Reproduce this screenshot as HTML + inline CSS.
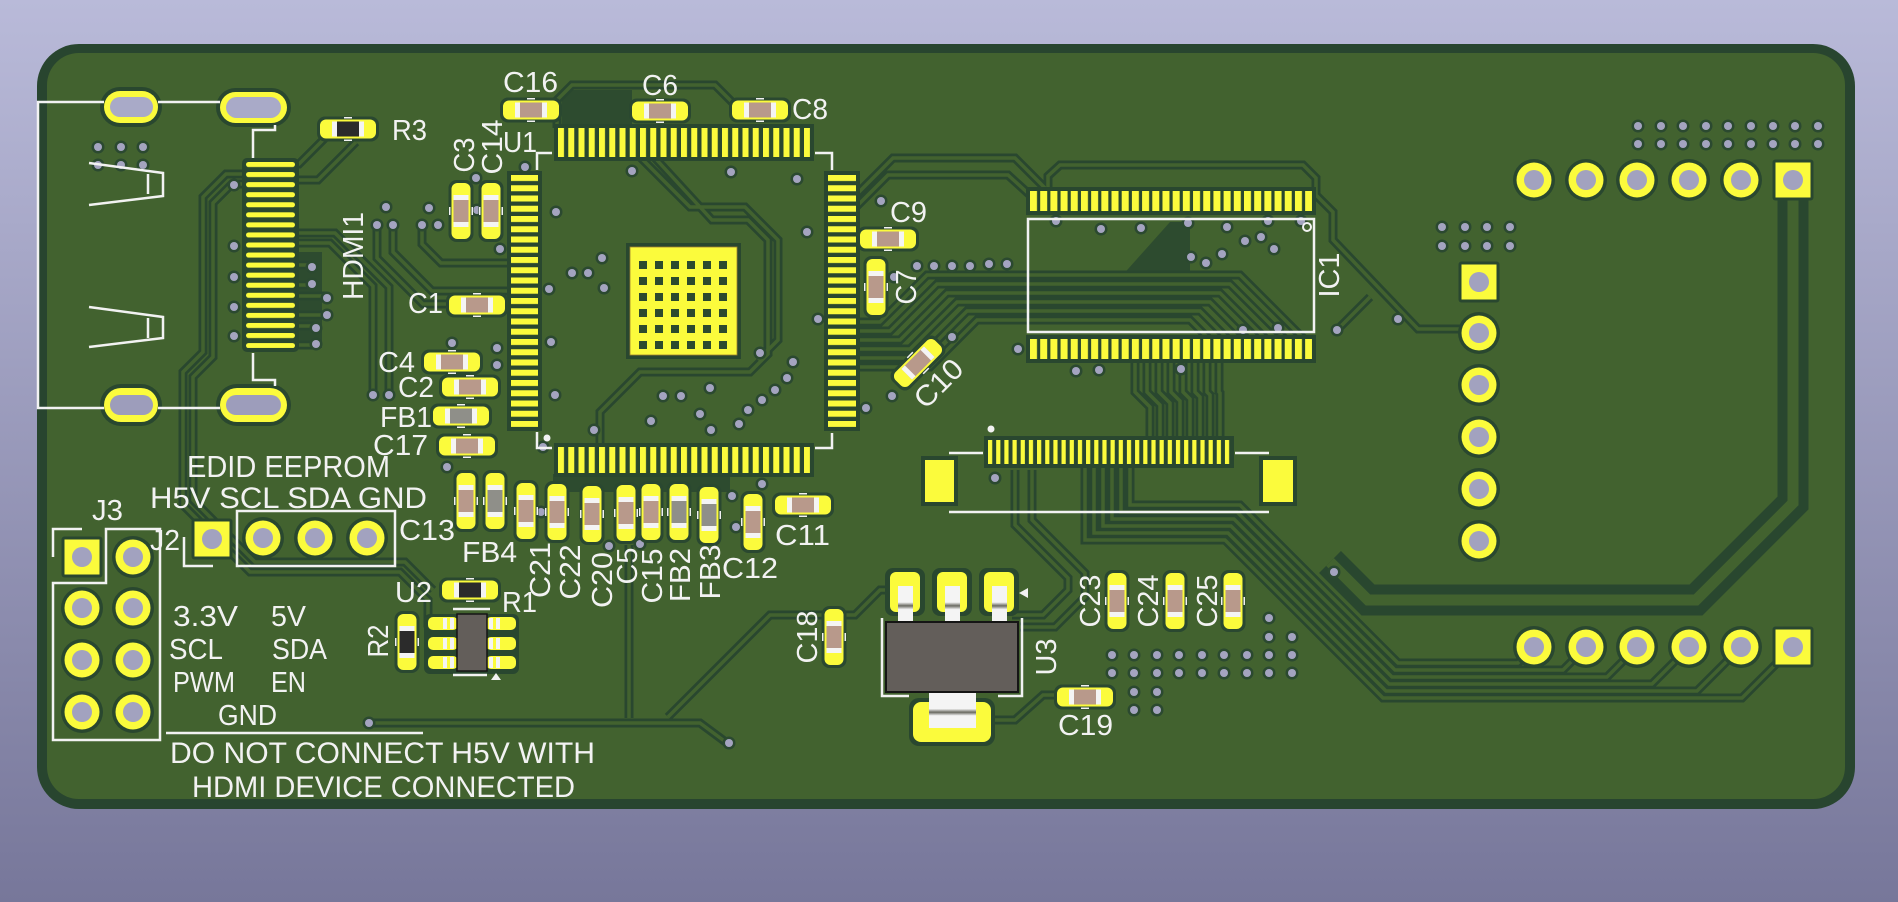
<!DOCTYPE html>
<html><head><meta charset="utf-8">
<style>
html,body{margin:0;padding:0;width:1898px;height:902px;overflow:hidden;background:#9a9ab8}
svg{display:block}
text{font-family:"Liberation Sans","DejaVu Sans",sans-serif;fill:#f2f2f2;font-size:29px}
.silk{fill:none;stroke:#f2f2f2;stroke-width:2.5}
</style></head><body>
<svg width="1898" height="902" viewBox="0 0 1898 902" xmlns="http://www.w3.org/2000/svg" xmlns:xlink="http://www.w3.org/1999/xlink">
<defs>
<linearGradient id="bg" gradientUnits="userSpaceOnUse" x1="0" y1="0" x2="0" y2="902">
<stop offset="0" stop-color="#b9bad9"/><stop offset="1" stop-color="#77779a"/>
</linearGradient>
<linearGradient id="lead" x1="0" y1="0" x2="0" y2="1">
<stop offset="0" stop-color="#f4f4f4"/><stop offset="0.45" stop-color="#f4f4f4"/><stop offset="0.55" stop-color="#6a6a62"/><stop offset="0.65" stop-color="#f4f4f4"/><stop offset="1" stop-color="#f4f4f4"/>
</linearGradient>
<pattern id="pU1h" patternUnits="userSpaceOnUse" x="558" y="0" width="10.25" height="902"><rect width="6" height="902" fill="#fbfb3c"/></pattern>
<pattern id="pU1v" patternUnits="userSpaceOnUse" x="0" y="175" width="1898" height="10.25"><rect width="1898" height="6" fill="#fbfb3c"/></pattern>
<pattern id="pIC" patternUnits="userSpaceOnUse" x="1030" y="0" width="10.19" height="902"><rect width="7" height="902" fill="#fbfb3c"/></pattern>
<pattern id="pFPC" patternUnits="userSpaceOnUse" x="988" y="0" width="8.17" height="902"><rect width="4.2" height="902" fill="#fbfb3c"/></pattern>
<pattern id="pHD" patternUnits="userSpaceOnUse" x="246" y="162" width="49" height="10.06"><rect width="49" height="5" rx="2.5" fill="#fbfb3c"/></pattern>

<g id="capH">
 <rect x="-31" y="-12.5" width="62" height="25" rx="8" fill="#2a4830"/>
 <rect x="-28" y="-9.5" width="56" height="19" rx="6" fill="#fbfb3c"/>
 <rect x="-16" y="-7.5" width="32" height="15" fill="#b8998b"/>
 <rect x="-16" y="-7.5" width="5" height="15" fill="#f4f4f4"/>
 <rect x="11" y="-7.5" width="5" height="15" fill="#f4f4f4"/>
 <rect x="-4" y="-12" width="8" height="1.5" fill="#f2f2f2"/>
 <rect x="-4" y="10.5" width="8" height="1.5" fill="#f2f2f2"/>
</g>
<g id="fbH">
 <rect x="-31" y="-12.5" width="62" height="25" rx="8" fill="#2a4830"/>
 <rect x="-28" y="-9.5" width="56" height="19" rx="6" fill="#fbfb3c"/>
 <rect x="-16" y="-7.5" width="32" height="15" fill="#8f8f89"/>
 <rect x="-16" y="-7.5" width="5" height="15" fill="#f4f4f4"/>
 <rect x="11" y="-7.5" width="5" height="15" fill="#f4f4f4"/>
 <rect x="-4" y="-12" width="8" height="1.5" fill="#f2f2f2"/>
 <rect x="-4" y="10.5" width="8" height="1.5" fill="#f2f2f2"/>
</g>
<g id="resH">
 <rect x="-31" y="-12.5" width="62" height="25" rx="8" fill="#2a4830"/>
 <rect x="-28" y="-9.5" width="56" height="19" rx="6" fill="#fbfb3c"/>
 <rect x="-16" y="-7.5" width="32" height="15" fill="#2b2b2b"/>
 <rect x="-16" y="-7.5" width="5" height="15" fill="#f4f4f4"/>
 <rect x="11" y="-7.5" width="5" height="15" fill="#f4f4f4"/>
 <rect x="-4" y="-12" width="8" height="1.5" fill="#f2f2f2"/>
 <rect x="-4" y="10.5" width="8" height="1.5" fill="#f2f2f2"/>
</g>
<g id="padR"><circle r="21" fill="#29472f"/><circle r="17.5" fill="#fbfb3c"/><circle r="10" fill="#a2a2bf"/></g>
<g id="padS"><rect x="-20.5" y="-20.5" width="41" height="41" rx="3" fill="#29472f"/><rect x="-17.5" y="-17.5" width="35" height="35" fill="#fbfb3c"/><circle r="10" fill="#a2a2bf"/></g>
<g id="v"><circle r="6.5" fill="#2b4930"/><circle r="4" fill="#a4a4c0"/></g>

<g id="thin">
<path d="M327,136 L299,164 H290"/>
<path d="M356,142 L318,180 H290"/>
<path d="M246,174 H226 L203,197 V352 L183,372 V470"/>
<path d="M246,184 H232 L213,203 V357 L193,377 V470"/>
<path d="M295,233 H335 L389,287 V395"/>
<path d="M295,243 H330 L373,286 V395"/>
<path d="M295,265 H312 M295,285 H312 M295,296 H327 M295,315 H327 M295,326 H316 M295,345 H316"/>
<path d="M377,225 V258 L423,304 H511"/>
<path d="M393,225 V252 L432,291 H511"/>
<path d="M422,225 V244 L441,263 H511"/>
<path d="M183,470 V505 L250,572 H400 L428,600 V623 H435"/>
<path d="M193,470 V500 L255,562 H405 L433,590"/>
<path d="M369,723 H700 L727,743"/>
<path d="M629,545 V718"/>
<path d="M905,590 H880 L855,615 H770 L668,717"/>
<path d="M600,447 V412 L640,372 H750 L768,354 V240 L748,220 H712 L655,158"/>
<path d="M640,157 L690,207 H745 L778,240 V340 L758,360"/>
<path d="M557,128 V100 L572,85 H715 L733,103 H760"/>
<path d="M856,195 L893,158 H1015 L1045,188"/>
<path d="M856,207 L888,175 H1008 L1030,195"/>
<path d="M1048,191 V176 L1060,165 H1303 L1316,178 V195 L1333,212 V240 L1418,329 H1479"/>
<path d="M1370,297 L1337,330"/>
<path d="M856,322 H880 L927,275 H1240 L1304,339"/>
<path d="M856,331 H890 L937,284 H1230 L1285,339"/>
<path d="M856,340 H900 L947,293 H1220 L1266,339"/>
<path d="M856,349 H910 L957,302 H1210 L1247,339"/>
<path d="M856,358 H920 L967,311 H1200 L1228,339"/>
<path d="M856,367 H930 L977,320 H1190 L1209,339"/>
<path d="M1135,359 V392 L1150,407 V440"/>
<path d="M1147,359 V392 L1160,405 V440"/>
<path d="M1159,359 V392 L1170,403 V440"/>
<path d="M1171,359 V392 L1180,401 V440"/>
<path d="M1183,359 V392 L1190,399 V440"/>
<path d="M1195,359 V392 L1200,397 V440"/>
<path d="M1207,359 V392 L1210,395 V440"/>
<path d="M1219,359 V392 L1220,393 V440"/>
<path d="M1130,464 V505 H1240 L1398,663 H1518 L1534,647"/>
<path d="M1121,464 V512 H1237 L1395,670 H1563 L1586,647"/>
<path d="M1112,464 V519 H1234 L1392,677 H1607 L1637,647"/>
<path d="M1103,464 V526 H1231 L1389,684 H1652 L1689,647"/>
<path d="M1094,464 V533 H1228 L1386,691 H1697 L1741,647"/>
<path d="M1085,464 V540 H1225 L1383,698 H1742 L1793,647"/>
<path d="M1015,470 V525 L1068,578 V590 L1043,615 H1012"/>
<path d="M1032,470 V520 L1085,573 V597 L1055,627 H1020"/>
<path d="M991,720 H1015 L1043,695 H1060"/>
</g>
</defs>

<!-- background -->
<rect width="1898" height="902" fill="url(#bg)"/>
<!-- board -->
<rect x="37" y="44" width="1818" height="765" rx="42" fill="#28452f"/>
<rect x="47" y="53" width="1798" height="746" rx="32" fill="#42622f"/>

<!-- dark unfilled zones -->
<g fill="#2d4b2f">
<polygon points="562,90 632,90 632,126 562,126"/>
<polygon points="1120,278 1170,222 1190,222 1190,278"/>
<polygon points="553,474 730,474 730,492 553,492"/>
<polygon points="298,252 322,252 322,348 298,348"/>
</g>

<!-- traces -->
<use href="#thin" fill="none" stroke="#29472f" stroke-width="9" stroke-linejoin="miter"/>
<use href="#thin" fill="none" stroke="#42622f" stroke-width="3.5" stroke-linejoin="miter"/>
<path d="M1793,198 V503 L1696,600 H1368 L1330,562" fill="none" stroke="#29472f" stroke-width="31"/>
<path d="M1793,198 V503 L1696,600 H1368 L1330,562" fill="none" stroke="#42622f" stroke-width="11"/>

<!-- vias -->
<g>
<use href="#v" x="98" y="147"/><use href="#v" x="121" y="147"/><use href="#v" x="143" y="147"/>
<use href="#v" x="98" y="165"/><use href="#v" x="121" y="165"/><use href="#v" x="143" y="165"/>
<use href="#v" x="234" y="185"/><use href="#v" x="234" y="246"/><use href="#v" x="234" y="277"/><use href="#v" x="234" y="307"/><use href="#v" x="234" y="336"/>
<use href="#v" x="312" y="267"/><use href="#v" x="312" y="284"/><use href="#v" x="327" y="298"/><use href="#v" x="327" y="315"/><use href="#v" x="316" y="328"/><use href="#v" x="316" y="344"/>
<use href="#v" x="377" y="225"/><use href="#v" x="393" y="225"/><use href="#v" x="422" y="225"/><use href="#v" x="438" y="225"/><use href="#v" x="386" y="207"/>
<use href="#v" x="373" y="395"/><use href="#v" x="389" y="395"/>
<use href="#v" x="525" y="167"/><use href="#v" x="477" y="210"/><use href="#v" x="476" y="178"/><use href="#v" x="429" y="208"/><use href="#v" x="500" y="249"/><use href="#v" x="556" y="212"/>
<use href="#v" x="602" y="258"/><use href="#v" x="572" y="273"/><use href="#v" x="588" y="273"/><use href="#v" x="604" y="288"/><use href="#v" x="549" y="289"/><use href="#v" x="551" y="342"/>
<use href="#v" x="497" y="348"/><use href="#v" x="497" y="365"/><use href="#v" x="452" y="343"/><use href="#v" x="555" y="395"/><use href="#v" x="632" y="171"/><use href="#v" x="731" y="172"/>
<use href="#v" x="797" y="179"/><use href="#v" x="807" y="232"/><use href="#v" x="818" y="319"/><use href="#v" x="760" y="353"/><use href="#v" x="793" y="362"/><use href="#v" x="787" y="378"/>
<use href="#v" x="775" y="390"/><use href="#v" x="762" y="400"/><use href="#v" x="748" y="410"/><use href="#v" x="739" y="424"/><use href="#v" x="710" y="388"/><use href="#v" x="681" y="396"/>
<use href="#v" x="663" y="396"/><use href="#v" x="700" y="414"/><use href="#v" x="711" y="430"/><use href="#v" x="651" y="421"/><use href="#v" x="594" y="430"/><use href="#v" x="881" y="201"/>
<use href="#v" x="894" y="277"/><use href="#v" x="892" y="396"/><use href="#v" x="866" y="408"/><use href="#v" x="543" y="447"/><use href="#v" x="447" y="467"/><use href="#v" x="541" y="512"/>
<use href="#v" x="609" y="546"/><use href="#v" x="640" y="544"/><use href="#v" x="732" y="496"/><use href="#v" x="736" y="527"/><use href="#v" x="762" y="484"/>
<use href="#v" x="917" y="266"/><use href="#v" x="934" y="266"/><use href="#v" x="952" y="266"/><use href="#v" x="970" y="266"/><use href="#v" x="989" y="264"/><use href="#v" x="1007" y="264"/>
<use href="#v" x="952" y="337"/><use href="#v" x="1018" y="349"/><use href="#v" x="1076" y="371"/><use href="#v" x="1099" y="370"/><use href="#v" x="1181" y="369"/><use href="#v" x="995" y="478"/>
<use href="#v" x="1056" y="221"/><use href="#v" x="1101" y="229"/><use href="#v" x="1141" y="228"/><use href="#v" x="1188" y="223"/><use href="#v" x="1227" y="227"/><use href="#v" x="1268" y="221"/>
<use href="#v" x="1301" y="221"/><use href="#v" x="1245" y="241"/><use href="#v" x="1261" y="237"/><use href="#v" x="1274" y="249"/><use href="#v" x="1191" y="257"/><use href="#v" x="1206" y="263"/>
<use href="#v" x="1222" y="254"/><use href="#v" x="1243" y="330"/><use href="#v" x="1278" y="328"/><use href="#v" x="1337" y="330"/><use href="#v" x="1398" y="319"/><use href="#v" x="1334" y="572"/>
<use href="#v" x="1638" y="126"/><use href="#v" x="1661" y="126"/><use href="#v" x="1683" y="126"/><use href="#v" x="1706" y="126"/><use href="#v" x="1728" y="126"/><use href="#v" x="1751" y="126"/><use href="#v" x="1773" y="126"/><use href="#v" x="1795" y="126"/><use href="#v" x="1818" y="126"/>
<use href="#v" x="1638" y="144"/><use href="#v" x="1661" y="144"/><use href="#v" x="1683" y="144"/><use href="#v" x="1706" y="144"/><use href="#v" x="1728" y="144"/><use href="#v" x="1751" y="144"/><use href="#v" x="1773" y="144"/><use href="#v" x="1795" y="144"/><use href="#v" x="1818" y="144"/>
<use href="#v" x="1442" y="227"/><use href="#v" x="1465" y="227"/><use href="#v" x="1487" y="227"/><use href="#v" x="1510" y="227"/>
<use href="#v" x="1442" y="246"/><use href="#v" x="1465" y="246"/><use href="#v" x="1487" y="246"/><use href="#v" x="1510" y="246"/>
<use href="#v" x="1269" y="618"/><use href="#v" x="1269" y="637"/><use href="#v" x="1292" y="637"/>
<use href="#v" x="1112" y="655"/><use href="#v" x="1134" y="655"/><use href="#v" x="1157" y="655"/><use href="#v" x="1179" y="655"/><use href="#v" x="1202" y="655"/><use href="#v" x="1224" y="655"/><use href="#v" x="1247" y="655"/><use href="#v" x="1269" y="655"/><use href="#v" x="1292" y="655"/>
<use href="#v" x="1112" y="673"/><use href="#v" x="1134" y="673"/><use href="#v" x="1157" y="673"/><use href="#v" x="1179" y="673"/><use href="#v" x="1202" y="673"/><use href="#v" x="1224" y="673"/><use href="#v" x="1247" y="673"/><use href="#v" x="1269" y="673"/><use href="#v" x="1292" y="673"/>
<use href="#v" x="1134" y="692"/><use href="#v" x="1157" y="692"/><use href="#v" x="1134" y="710"/><use href="#v" x="1157" y="710"/>
<use href="#v" x="369" y="723"/><use href="#v" x="729" y="743"/>
</g>

<!-- HDMI connector -->
<g>
<rect x="100" y="87" width="62" height="40" rx="20" fill="#29472f"/>
<rect x="104" y="91" width="54" height="32" rx="16" fill="#fbfb3c"/>
<rect x="110" y="97" width="43" height="20" rx="10" fill="#a9aac8"/>
<rect x="216" y="88" width="75" height="39" rx="19.5" fill="#29472f"/>
<rect x="220" y="92" width="67" height="31" rx="15.5" fill="#fbfb3c"/>
<rect x="226" y="97" width="55" height="21" rx="10.5" fill="#a9aac8"/>
<rect x="100" y="384" width="62" height="42" rx="21" fill="#29472f"/>
<rect x="104" y="388" width="54" height="34" rx="17" fill="#fbfb3c"/>
<rect x="110" y="395" width="43" height="20" rx="10" fill="#9d9dbb"/>
<rect x="216" y="384" width="75" height="42" rx="21" fill="#29472f"/>
<rect x="220" y="388" width="67" height="34" rx="17" fill="#fbfb3c"/>
<rect x="226" y="395" width="55" height="20" rx="10" fill="#9d9dbb"/>
<rect x="242" y="158" width="57" height="194" rx="5" fill="#29472f"/>
<rect x="246" y="162" width="49" height="186" fill="url(#pHD)"/>
<path class="silk" d="M104,102 H38 V408 H104 M158,102 H220 M158,408 H220 M275,125 V130 H253 V158 M253,353 V380 H275 V386"/>
<path class="silk" d="M89,163 L163,173 V196 L89,205 M148,174 V194 M89,307 L163,317 V338 L89,347 M148,318 V338" stroke-width="3"/>
</g>

<!-- U1 -->
<g>
<rect x="554" y="124" width="260" height="37" fill="#29472f"/>
<rect x="554" y="443" width="260" height="34" fill="#29472f"/>
<rect x="507" y="171" width="35" height="260" fill="#29472f"/>
<rect x="824" y="171" width="36" height="260" fill="#29472f"/>
<rect x="558" y="128" width="252" height="29" fill="url(#pU1h)"/>
<rect x="558" y="447" width="252" height="26" fill="url(#pU1h)"/>
<rect x="511" y="175" width="27" height="252" fill="url(#pU1v)"/>
<rect x="828" y="175" width="28" height="252" fill="url(#pU1v)"/>
<rect x="626" y="243" width="115" height="116" fill="#29472f"/>
<rect x="630" y="247" width="107" height="108" fill="#fbfb3c" stroke="#a08030" stroke-width="0.8"/>
<g fill="#2c4a2e">
<rect x="639" y="261" width="8" height="8"/><rect x="655" y="261" width="8" height="8"/><rect x="671" y="261" width="8" height="8"/><rect x="687" y="261" width="8" height="8"/><rect x="703" y="261" width="8" height="8"/><rect x="719" y="261" width="8" height="8"/>
<rect x="639" y="277" width="8" height="8"/><rect x="655" y="277" width="8" height="8"/><rect x="671" y="277" width="8" height="8"/><rect x="687" y="277" width="8" height="8"/><rect x="703" y="277" width="8" height="8"/><rect x="719" y="277" width="8" height="8"/>
<rect x="639" y="293" width="8" height="8"/><rect x="655" y="293" width="8" height="8"/><rect x="671" y="293" width="8" height="8"/><rect x="687" y="293" width="8" height="8"/><rect x="703" y="293" width="8" height="8"/><rect x="719" y="293" width="8" height="8"/>
<rect x="639" y="309" width="8" height="8"/><rect x="655" y="309" width="8" height="8"/><rect x="671" y="309" width="8" height="8"/><rect x="687" y="309" width="8" height="8"/><rect x="703" y="309" width="8" height="8"/><rect x="719" y="309" width="8" height="8"/>
<rect x="639" y="325" width="8" height="8"/><rect x="655" y="325" width="8" height="8"/><rect x="671" y="325" width="8" height="8"/><rect x="687" y="325" width="8" height="8"/><rect x="703" y="325" width="8" height="8"/><rect x="719" y="325" width="8" height="8"/>
<rect x="639" y="341" width="8" height="8"/><rect x="655" y="341" width="8" height="8"/><rect x="671" y="341" width="8" height="8"/><rect x="687" y="341" width="8" height="8"/><rect x="703" y="341" width="8" height="8"/><rect x="719" y="341" width="8" height="8"/>
</g>
<path class="silk" d="M552,153 H537 V170 M815,153 H832 V170 M537,432 V448 H552 M832,433 V448 H815"/>
<circle cx="547" cy="438" r="3.5" fill="#f2f2f2"/>
</g>

<!-- IC1 -->
<g>
<rect x="1026" y="187" width="290" height="28" fill="#29472f"/>
<rect x="1026" y="335" width="290" height="28" fill="#29472f"/>
<rect x="1030" y="191" width="282" height="20" fill="url(#pIC)"/>
<rect x="1030" y="339" width="282" height="20" fill="url(#pIC)"/>
<rect class="silk" x="1028" y="219" width="286" height="113"/>
<circle cx="1307" cy="227" r="4" fill="none" stroke="#f2f2f2" stroke-width="2"/>
</g>

<!-- FPC connector -->
<g>
<rect x="984" y="436" width="250" height="32" fill="#29472f"/>
<rect x="988" y="440" width="242" height="24" fill="url(#pFPC)"/>
<rect x="921" y="456" width="37" height="50" fill="#29472f"/>
<rect x="925" y="460" width="29" height="42" fill="#fbfb3c"/>
<rect x="1259" y="456" width="38" height="50" fill="#29472f"/>
<rect x="1263" y="460" width="30" height="42" fill="#fbfb3c"/>
<path class="silk" d="M949,453 H983 M1235,453 H1269 M949,512 H1269"/>
<circle cx="991" cy="429" r="3.5" fill="#f2f2f2"/>
</g>

<!-- U3 SOT-223 -->
<g>
<rect x="885" y="568" width="40" height="48" rx="8" fill="#29472f"/>
<rect x="932" y="568" width="40" height="48" rx="8" fill="#29472f"/>
<rect x="979" y="568" width="40" height="48" rx="8" fill="#29472f"/>
<rect x="909" y="698" width="86" height="48" rx="10" fill="#29472f"/>
<rect x="890" y="572" width="30" height="40" rx="6" fill="#fbfb3c"/>
<rect x="937" y="572" width="30" height="40" rx="6" fill="#fbfb3c"/>
<rect x="984" y="572" width="30" height="40" rx="6" fill="#fbfb3c"/>
<rect x="913" y="702" width="78" height="40" rx="8" fill="#fbfb3c"/>
<rect x="898" y="586" width="15" height="36" fill="url(#lead)"/>
<rect x="945" y="586" width="15" height="36" fill="url(#lead)"/>
<rect x="992" y="586" width="15" height="36" fill="url(#lead)"/>
<rect x="929" y="693" width="47" height="35" fill="url(#lead)"/>
<rect x="886" y="622" width="132" height="70" fill="#635e5a" stroke="#151515" stroke-width="2"/>
<path class="silk" d="M882,618 V696 H909 M998,696 H1022 V618"/>
<polygon points="1019,593 1028,588 1028,598" fill="#f2f2f2"/>
</g>

<!-- U2 small IC -->
<g>
<rect x="424" y="614" width="95" height="60" rx="6" fill="#29472f"/>
<rect x="428" y="617" width="30" height="13" rx="5" fill="#fbfb3c"/>
<rect x="428" y="637" width="30" height="13" rx="5" fill="#fbfb3c"/>
<rect x="428" y="656" width="30" height="13" rx="5" fill="#fbfb3c"/>
<rect x="486" y="617" width="30" height="13" rx="5" fill="#fbfb3c"/>
<rect x="486" y="637" width="30" height="13" rx="5" fill="#fbfb3c"/>
<rect x="486" y="656" width="30" height="13" rx="5" fill="#fbfb3c"/>
<g fill="#f4f4f4">
<rect x="443" y="618" width="4" height="11"/><rect x="450" y="618" width="4" height="11"/>
<rect x="443" y="638" width="4" height="11"/><rect x="450" y="638" width="4" height="11"/>
<rect x="443" y="657" width="4" height="11"/><rect x="450" y="657" width="4" height="11"/>
<rect x="489" y="618" width="4" height="11"/><rect x="496" y="618" width="4" height="11"/>
<rect x="489" y="638" width="4" height="11"/><rect x="496" y="638" width="4" height="11"/>
<rect x="489" y="657" width="4" height="11"/><rect x="496" y="657" width="4" height="11"/>
</g>
<rect x="457" y="614" width="30" height="57" fill="#635e5a" stroke="#151515" stroke-width="1.5"/>
<path class="silk" d="M453,609 H490 M453,675 H487" stroke-width="1.5"/>
<polygon points="496,673 491,680 501,680" fill="#f2f2f2"/>
</g>

<!-- passives -->
<use href="#capH" transform="translate(531,110)"/>
<use href="#capH" transform="translate(660,111)"/>
<use href="#capH" transform="translate(760,110)"/>
<use href="#capH" transform="translate(461,211) rotate(90)"/>
<use href="#capH" transform="translate(491,211) rotate(90)"/>
<use href="#capH" transform="translate(477,305)"/>
<use href="#capH" transform="translate(452,362)"/>
<use href="#capH" transform="translate(470,387)"/>
<use href="#fbH" transform="translate(461,416)"/>
<use href="#capH" transform="translate(467,446)"/>
<use href="#resH" transform="translate(348,129)"/>
<use href="#capH" transform="translate(466,501) rotate(90)"/>
<use href="#fbH" transform="translate(495,501) rotate(90)"/>
<use href="#capH" transform="translate(526,511) rotate(90)"/>
<use href="#capH" transform="translate(557,512) rotate(90)"/>
<use href="#capH" transform="translate(592,514) rotate(90)"/>
<use href="#capH" transform="translate(626,513) rotate(90)"/>
<use href="#capH" transform="translate(651,512) rotate(90)"/>
<use href="#fbH" transform="translate(679,512) rotate(90)"/>
<use href="#fbH" transform="translate(709,515) rotate(90)"/>
<use href="#capH" transform="translate(753,522) rotate(90)"/>
<use href="#capH" transform="translate(803,505)"/>
<use href="#capH" transform="translate(888,239)"/>
<use href="#capH" transform="translate(876,287) rotate(90)"/>
<use href="#capH" transform="translate(918,363) rotate(-45)"/>
<use href="#resH" transform="translate(470,590)"/>
<use href="#resH" transform="translate(407,642) rotate(90)"/>
<use href="#capH" transform="translate(834,637) rotate(90)"/>
<use href="#capH" transform="translate(1117,601) rotate(90)"/>
<use href="#capH" transform="translate(1175,601) rotate(90)"/>
<use href="#capH" transform="translate(1233,601) rotate(90)"/>
<use href="#capH" transform="translate(1085,697)"/>

<!-- through-hole headers -->
<use href="#padR" x="1534" y="180"/><use href="#padR" x="1586" y="180"/><use href="#padR" x="1637" y="180"/><use href="#padR" x="1689" y="180"/><use href="#padR" x="1741" y="180"/><use href="#padS" x="1793" y="180"/>
<use href="#padR" x="1534" y="647"/><use href="#padR" x="1586" y="647"/><use href="#padR" x="1637" y="647"/><use href="#padR" x="1689" y="647"/><use href="#padR" x="1741" y="647"/><use href="#padS" x="1793" y="647"/>
<use href="#padS" x="1479" y="282"/><use href="#padR" x="1479" y="333"/><use href="#padR" x="1479" y="385"/><use href="#padR" x="1479" y="437"/><use href="#padR" x="1479" y="489"/><use href="#padR" x="1479" y="541"/>
<use href="#padS" x="82" y="557"/><use href="#padR" x="133" y="557"/>
<use href="#padR" x="82" y="608"/><use href="#padR" x="133" y="608"/>
<use href="#padR" x="82" y="660"/><use href="#padR" x="133" y="660"/>
<use href="#padR" x="82" y="712"/><use href="#padR" x="133" y="712"/>
<use href="#padS" x="212" y="539"/><use href="#padR" x="263" y="538"/><use href="#padR" x="315" y="538"/><use href="#padR" x="367" y="538"/>

<!-- silkscreen outlines -->
<path class="silk" d="M53,557 V529 H82 M106,529 H160 V740 H53 V583 H106 Z"/>
<path class="silk" d="M237,511 H395 V566 H237 Z M184,537 V566 H213"/>
<path class="silk" d="M166,733 H423"/>

<!-- labels -->
<g>
<text x="392" y="140" textLength="35" lengthAdjust="spacingAndGlyphs">R3</text>
<text x="503" y="92" textLength="55" lengthAdjust="spacingAndGlyphs">C16</text>
<text x="642" y="95" textLength="36" lengthAdjust="spacingAndGlyphs">C6</text>
<text x="792" y="119" textLength="36" lengthAdjust="spacingAndGlyphs">C8</text>
<text x="503" y="152" textLength="34" lengthAdjust="spacingAndGlyphs">U1</text>
<text transform="translate(474,155) rotate(-90)" x="-17.5" y="0" textLength="35" lengthAdjust="spacingAndGlyphs">C3</text>
<text transform="translate(502,147) rotate(-90)" x="-27.5" y="0" textLength="55" lengthAdjust="spacingAndGlyphs">C14</text>
<text transform="translate(363,256) rotate(-90)" x="-44" y="0" textLength="88" lengthAdjust="spacingAndGlyphs">HDMI1</text>
<text x="408" y="313" textLength="35" lengthAdjust="spacingAndGlyphs">C1</text>
<text x="378" y="372" textLength="37" lengthAdjust="spacingAndGlyphs">C4</text>
<text x="398" y="397" textLength="36" lengthAdjust="spacingAndGlyphs">C2</text>
<text x="380" y="427" textLength="52" lengthAdjust="spacingAndGlyphs">FB1</text>
<text x="373" y="455" textLength="55" lengthAdjust="spacingAndGlyphs">C17</text>
<text x="187" y="477" textLength="203" lengthAdjust="spacingAndGlyphs" style="font-size:31px">EDID EEPROM</text>
<text x="150" y="508" textLength="277" lengthAdjust="spacingAndGlyphs" style="font-size:30px">H5V SCL SDA GND</text>
<text x="92" y="520" textLength="31" lengthAdjust="spacingAndGlyphs">J3</text>
<text x="150" y="550" textLength="30" lengthAdjust="spacingAndGlyphs">J2</text>
<text x="399" y="540" textLength="56" lengthAdjust="spacingAndGlyphs">C13</text>
<text x="462" y="562" textLength="55" lengthAdjust="spacingAndGlyphs">FB4</text>
<text x="173" y="626" textLength="65" lengthAdjust="spacingAndGlyphs">3.3V</text>
<text x="271" y="626" textLength="35" lengthAdjust="spacingAndGlyphs">5V</text>
<text x="169" y="659" textLength="54" lengthAdjust="spacingAndGlyphs">SCL</text>
<text x="272" y="659" textLength="55" lengthAdjust="spacingAndGlyphs">SDA</text>
<text x="173" y="692" textLength="62" lengthAdjust="spacingAndGlyphs">PWM</text>
<text x="271" y="692" textLength="35" lengthAdjust="spacingAndGlyphs">EN</text>
<text x="218" y="725" textLength="59" lengthAdjust="spacingAndGlyphs">GND</text>
<text x="170" y="763" textLength="425" lengthAdjust="spacingAndGlyphs" style="font-size:30px">DO NOT CONNECT H5V WITH</text>
<text x="192" y="797" textLength="383" lengthAdjust="spacingAndGlyphs" style="font-size:30px">HDMI DEVICE CONNECTED</text>
<text x="395" y="602" textLength="37" lengthAdjust="spacingAndGlyphs">U2</text>
<text x="502" y="612" textLength="35" lengthAdjust="spacingAndGlyphs">R1</text>
<text transform="translate(388,641) rotate(-90)" x="-16.5" y="0" textLength="33" lengthAdjust="spacingAndGlyphs">R2</text>
<text transform="translate(550,570) rotate(-90)" x="-28" y="0" textLength="56" lengthAdjust="spacingAndGlyphs">C21</text>
<text transform="translate(580,572) rotate(-90)" x="-27.5" y="0" textLength="55" lengthAdjust="spacingAndGlyphs">C22</text>
<text transform="translate(612,580) rotate(-90)" x="-28" y="0" textLength="56" lengthAdjust="spacingAndGlyphs">C20</text>
<text transform="translate(637,566) rotate(-90)" x="-18.5" y="0" textLength="37" lengthAdjust="spacingAndGlyphs">C5</text>
<text transform="translate(662,576) rotate(-90)" x="-27.5" y="0" textLength="55" lengthAdjust="spacingAndGlyphs">C15</text>
<text transform="translate(690,575) rotate(-90)" x="-27" y="0" textLength="54" lengthAdjust="spacingAndGlyphs">FB2</text>
<text transform="translate(720,572) rotate(-90)" x="-27.5" y="0" textLength="55" lengthAdjust="spacingAndGlyphs">FB3</text>
<text x="722" y="578" textLength="56" lengthAdjust="spacingAndGlyphs">C12</text>
<text x="775" y="545" textLength="55" lengthAdjust="spacingAndGlyphs">C11</text>
<text transform="translate(817,637) rotate(-90)" x="-26.5" y="0" textLength="53" lengthAdjust="spacingAndGlyphs">C18</text>
<text x="890" y="222" textLength="37" lengthAdjust="spacingAndGlyphs">C9</text>
<text transform="translate(916,287) rotate(-90)" x="-17.5" y="0" textLength="35" lengthAdjust="spacingAndGlyphs">C7</text>
<text transform="translate(938,383) rotate(-45)" x="-28" y="10.5" textLength="56" lengthAdjust="spacingAndGlyphs">C10</text>
<text transform="translate(1339,275) rotate(-90)" x="-22.5" y="0" textLength="45" lengthAdjust="spacingAndGlyphs">IC1</text>
<text transform="translate(1056,657) rotate(-90)" x="-18.5" y="0" textLength="37" lengthAdjust="spacingAndGlyphs">U3</text>
<text transform="translate(1100,601) rotate(-90)" x="-26.5" y="0" textLength="53" lengthAdjust="spacingAndGlyphs">C23</text>
<text transform="translate(1158,601) rotate(-90)" x="-26.5" y="0" textLength="53" lengthAdjust="spacingAndGlyphs">C24</text>
<text transform="translate(1217,601) rotate(-90)" x="-26.5" y="0" textLength="53" lengthAdjust="spacingAndGlyphs">C25</text>
<text x="1058" y="735" textLength="55" lengthAdjust="spacingAndGlyphs">C19</text>
</g>
</svg>
</body></html>
